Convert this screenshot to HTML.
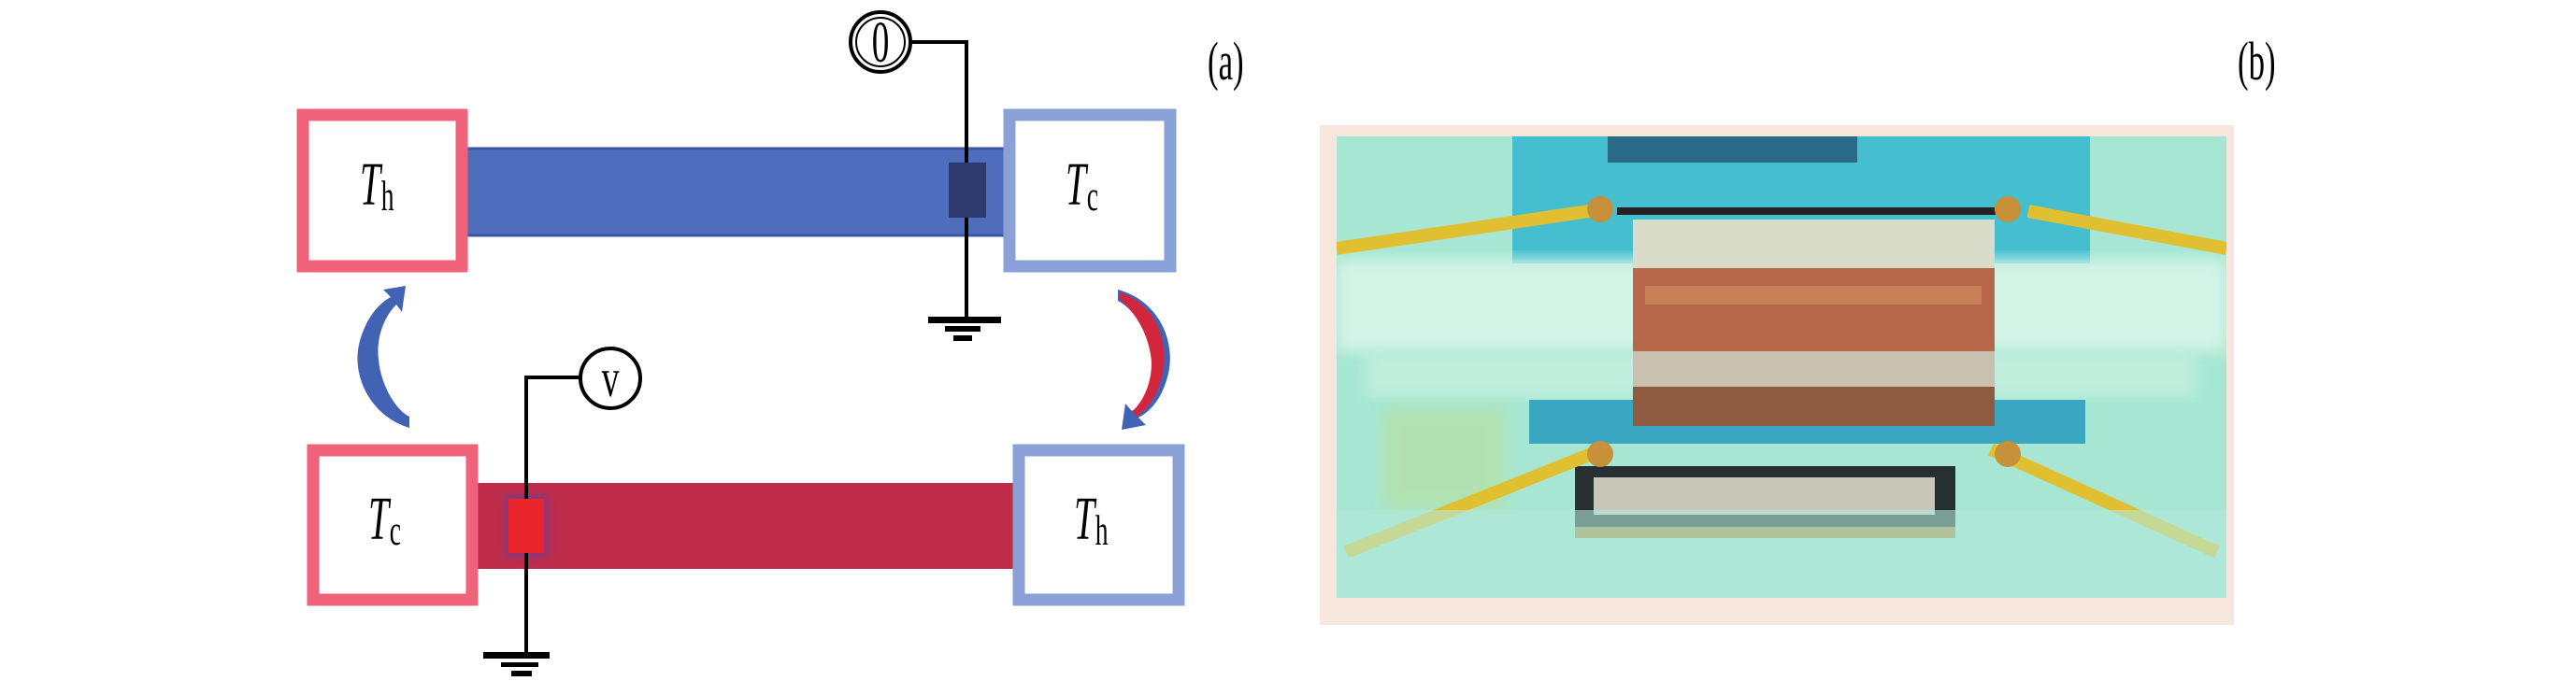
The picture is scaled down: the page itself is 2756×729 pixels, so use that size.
<!DOCTYPE html>
<html><head><meta charset="utf-8"><style>
html,body{margin:0;padding:0;background:#fff;}
svg{display:block;}
text{font-family:"Liberation Serif",serif;}
</style></head><body>
<svg width="2756" height="729" viewBox="0 0 2756 729" xmlns="http://www.w3.org/2000/svg">
<defs>
<filter id="bl" x="-20%" y="-20%" width="140%" height="140%"><feGaussianBlur stdDeviation="4"/></filter>
<filter id="bl2"><feGaussianBlur stdDeviation="8"/></filter>
</defs>
<rect x="498" y="159" width="580" height="93" fill="#4e6dbd" stroke="#3a56a8" stroke-width="3"/>
<rect x="324" y="123" width="170" height="162" fill="#fff" stroke="#f0617a" stroke-width="13"/>
<rect x="1080" y="123" width="172" height="162" fill="#fff" stroke="#8aa1d8" stroke-width="13"/>
<rect x="1015" y="174" width="40" height="59" fill="#2e3a6e"/>
<polyline points="976,45 1034,45 1034,174" fill="none" stroke="#000" stroke-width="4"/>
<line x1="1034" y1="233" x2="1034" y2="342" stroke="#000" stroke-width="4"/>
<rect x="993" y="339" width="78" height="7" fill="#000"/>
<rect x="1011" y="349" width="38" height="6" fill="#000"/>
<rect x="1020" y="359" width="20" height="6" fill="#000"/>
<circle cx="942" cy="45" r="32" fill="#fff" stroke="#000" stroke-width="4"/>
<circle cx="942" cy="45" r="26" fill="none" stroke="#000" stroke-width="2"/>
<g transform="translate(942,66) scale(0.6,1)"><text x="0" y="0" font-size="62" text-anchor="middle">0</text></g>
<g transform="translate(385,219) scale(0.6,1)"><text font-size="66" font-style="italic">T</text><text x="38" y="6" font-size="46">h</text></g>
<g transform="translate(1140,219) scale(0.6,1)"><text font-size="66" font-style="italic">T</text><text x="38" y="6" font-size="46">c</text></g>
<g transform="translate(1292,85) scale(0.6,1)"><text font-size="58">(a)</text></g>
<rect x="505" y="517" width="581" height="92" fill="#bf2c4a"/>
<rect x="335" y="482" width="170" height="160" fill="#fff" stroke="#f0617a" stroke-width="13"/>
<rect x="1090" y="482" width="171" height="160" fill="#fff" stroke="#8aa1d8" stroke-width="13"/>
<rect x="540" y="530" width="46" height="66" fill="#6040a0" filter="url(#bl)" opacity="0.6"/>
<rect x="544" y="534" width="38" height="58" fill="#e8262c"/>
<polyline points="620,404 563,404 563,534" fill="none" stroke="#000" stroke-width="4"/>
<line x1="563" y1="592" x2="563" y2="701" stroke="#000" stroke-width="4"/>
<rect x="517" y="698" width="71" height="7" fill="#000"/>
<rect x="536" y="709" width="40" height="5" fill="#000"/>
<rect x="547" y="718" width="22" height="6" fill="#000"/>
<circle cx="653" cy="405" r="32" fill="#fff" stroke="#000" stroke-width="4"/>
<g transform="translate(653,424) scale(0.65,1)"><text font-size="58" text-anchor="middle">v</text></g>
<g transform="translate(394,577) scale(0.6,1)"><text font-size="66" font-style="italic">T</text><text x="38" y="6" font-size="46">c</text></g>
<g transform="translate(1149,577) scale(0.6,1)"><text font-size="66" font-style="italic">T</text><text x="38" y="6" font-size="46">h</text></g>
<path d="M438,458 C395,445 375,400 385,365 C392,340 405,325 418,318 L410,310 L434,306 L430,334 L424,326 C412,338 402,360 405,385 C408,415 425,440 438,446 Z" fill="#4262b4"/>
<path d="M1196,310 C1240,322 1258,365 1250,400 C1244,425 1232,440 1218,447 L1226,455 L1200,460 L1204,432 L1211,440 C1225,430 1236,410 1234,385 C1230,355 1212,330 1196,322 Z" fill="#4262b4"/>
<path d="M1198,313 C1236,326 1250,362 1244,398 C1240,420 1230,436 1216,446 L1212,440 C1224,428 1232,410 1232,388 C1230,360 1216,336 1198,320 Z" fill="#d3263c"/>
<g transform="translate(2394,85) scale(0.6,1)"><text font-size="58">(b)</text></g>
<rect x="1412" y="134" width="978" height="535" fill="#f6e6dc"/>
<svg x="1430" y="146" width="952" height="494" viewBox="0 0 952 494">
<rect width="952" height="494" fill="#a6e6d2"/>
<rect x="188" y="0" width="618" height="136" fill="#45bed0"/>
<rect x="290" y="0" width="267" height="28" fill="#2a6a88"/>
<rect x="0" y="132" width="952" height="98" fill="#d4f4e8" filter="url(#bl2)"/>
<rect x="30" y="230" width="890" height="50" fill="#bfeedd" filter="url(#bl2)"/>
<rect x="206" y="282" width="595" height="47" fill="#3aa6c0"/>
<rect x="50" y="290" width="130" height="110" fill="#b9df9a" opacity="0.6" filter="url(#bl2)"/>
<rect x="317" y="89" width="387" height="52" fill="#d9dcc8"/>
<rect x="317" y="141" width="387" height="89" fill="#b8684a"/>
<rect x="330" y="160" width="360" height="20" fill="#cf8a5c" opacity="0.7"/>
<rect x="317" y="230" width="387" height="38" fill="#c9c0b0"/>
<rect x="317" y="268" width="387" height="42" fill="#8e5a40"/>
<rect x="300" y="76" width="420" height="8" fill="#222"/>
<rect x="255" y="353" width="407" height="77" fill="#263030"/>
<rect x="275" y="365" width="365" height="40" fill="#c8c8b8"/>
<rect x="255" y="418" width="407" height="12" fill="#a88a40"/>
<polyline points="0,120 270,80" fill="none" stroke="#e0c030" stroke-width="14"/>
<polyline points="952,120 740,80" fill="none" stroke="#e0c030" stroke-width="14"/>
<polyline points="10,445 285,335" fill="none" stroke="#e0c030" stroke-width="14"/>
<polyline points="942,445 700,335" fill="none" stroke="#e0c030" stroke-width="14"/>
<circle cx="282" cy="78" r="14" fill="#c89038"/>
<circle cx="718" cy="78" r="14" fill="#c89038"/>
<circle cx="282" cy="340" r="14" fill="#c89038"/>
<circle cx="718" cy="340" r="14" fill="#c89038"/>
<rect x="0" y="400" width="952" height="94" fill="#b2e8da" opacity="0.6"/>
</svg>
</svg>
</body></html>
